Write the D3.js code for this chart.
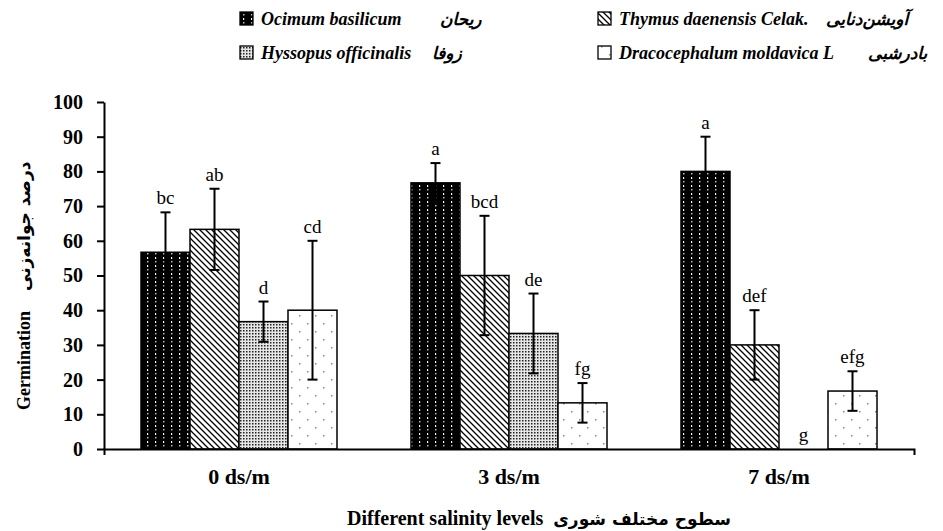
<!DOCTYPE html>
<html>
<head>
<meta charset="utf-8">
<script src="https://cdn.jsdelivr.net/npm/d3@7"></script>
<style>
  body { margin: 0; background: #fff; }
  svg { display: block; }
  .serif { font-family: "Liberation Serif", "DejaVu Serif", serif; }
  .fa { font-family: "DejaVu Sans", sans-serif; }
</style>
</head>
<body>
<div id="main"></div>
<script>
const categories = ["0 ds/m", "3 ds/m", "7 ds/m"];
const species = ["Ocimum basilicum", "Thymus daenensis Celak.", "Hyssopus officinalis", "Dracocephalum moldavica L"];
const persianNames = ["ریحان", "آویشن‌دنایی", "زوفا", "بادرشبی"];

const ocimum = [56.7, 76.7, 80];
const thymus = [63.3, 50, 30];
const hyssopus = [36.7, 33.3, 0];
const dracocephalum = [40, 13.3, 16.7];

const ocimumErr = [11.5, 5.7, 10];
const thymusErr = [11.7, 17.2, 10];
const hyssopusErr = [5.8, 11.5, 0];
const dracocephalumErr = [20, 5.7, 5.7];

const ocimumLetters = ["bc", "a", "a"];
const thymusLetters = ["ab", "bcd", "def"];
const hyssopusLetters = ["d", "de", "g"];
const dracocephalumLetters = ["cd", "fg", "efg"];

const yTicks = [0, 10, 20, 30, 40, 50, 60, 70, 80, 90, 100];

const seriesValues = [ocimum, thymus, hyssopus, dracocephalum];
const seriesErrors = [ocimumErr, thymusErr, hyssopusErr, dracocephalumErr];
const seriesLetters = [ocimumLetters, thymusLetters, hyssopusLetters, dracocephalumLetters];

const svgWidth = 943;
const svgHeight = 531;
const svg = d3.select("#main")
              .append("svg")
              .attr("width", svgWidth)
              .attr("height", svgHeight);

// fill patterns, one per species
const defs = svg.append("defs");

const p0 = defs.append("pattern").attr("id", "pat0")
               .attr("patternUnits", "userSpaceOnUse").attr("width", 8).attr("height", 8);
p0.append("rect").attr("width", 8).attr("height", 8).attr("fill", "#000");
p0.append("rect").attr("x", 3).attr("y", 1).attr("width", 1.2).attr("height", 2).attr("fill", "#fff");
p0.append("rect").attr("x", 3).attr("y", 5).attr("width", 1.5).attr("height", 1.5).attr("fill", "#bbb");

const p1 = defs.append("pattern").attr("id", "pat1")
               .attr("patternUnits", "userSpaceOnUse").attr("width", 6).attr("height", 6);
p1.append("rect").attr("width", 6).attr("height", 6).attr("fill", "#fff");
p1.append("path").attr("d", "M-1,-1L7,7M-1,5L1,7M5,-1L7,1")
  .attr("stroke", "#000").attr("stroke-width", 1.3);

const p2 = defs.append("pattern").attr("id", "pat2")
               .attr("patternUnits", "userSpaceOnUse").attr("width", 3).attr("height", 3);
p2.append("rect").attr("width", 3).attr("height", 3).attr("fill", "#e6e6e6");
p2.append("rect").attr("width", 1.5).attr("height", 1.5).attr("fill", "#222");

const p3 = defs.append("pattern").attr("id", "pat3")
               .attr("patternUnits", "userSpaceOnUse").attr("width", 16).attr("height", 16);
p3.append("rect").attr("width", 16).attr("height", 16).attr("fill", "#fff");
p3.append("rect").attr("x", 3).attr("y", 3).attr("width", 1.5).attr("height", 1.5).attr("fill", "#888");
p3.append("rect").attr("x", 11).attr("y", 11).attr("width", 1.5).attr("height", 1.5).attr("fill", "#888");

const fills = ["url(#pat0)", "url(#pat1)", "url(#pat2)", "url(#pat3)"];

// scales
const x0 = d3.scaleBand()
             .domain(categories)
             .range([104, 914]);

const x1 = d3.scaleBand()
             .domain(species)
             .range([0, x0.bandwidth()])
             .paddingOuter(0.755);

const yScale = d3.scaleLinear()
                 .domain([0, 100])
                 .range([449, 102]);

// rows of data
const rows = [];
categories.forEach((c, i) => {
  species.forEach((s, j) => {
    rows.push({
      cat: c,
      sp: s,
      idx: j,
      value: seriesValues[j][i],
      err: seriesErrors[j][i],
      letter: seriesLetters[j][i]
    });
  });
});

// bars
svg.append("g")
   .selectAll("rect")
   .data(rows.filter(d => d.value > 0))
   .enter()
   .append("rect")
   .attr("x", d => x0(d.cat) + x1(d.sp))
   .attr("y", d => yScale(d.value))
   .attr("width", x1.bandwidth())
   .attr("height", d => yScale(0) - yScale(d.value))
   .attr("fill", d => fills[d.idx])
   .attr("stroke", "#000")
   .attr("stroke-width", 1.5);

// error bars
const eb = svg.append("g")
              .selectAll("g")
              .data(rows.filter(d => d.err > 0))
              .enter()
              .append("g")
              .attr("stroke", "#000")
              .attr("stroke-width", 2);

const cx = d => x0(d.cat) + x1(d.sp) + x1.bandwidth() / 2;

eb.append("line")
  .attr("x1", cx).attr("x2", cx)
  .attr("y1", d => yScale(d.value - d.err))
  .attr("y2", d => yScale(d.value + d.err));
eb.append("line")
  .attr("x1", d => cx(d) - 5).attr("x2", d => cx(d) + 5)
  .attr("y1", d => yScale(d.value + d.err))
  .attr("y2", d => yScale(d.value + d.err));
eb.append("line")
  .attr("x1", d => cx(d) - 5).attr("x2", d => cx(d) + 5)
  .attr("y1", d => yScale(d.value - d.err))
  .attr("y2", d => yScale(d.value - d.err));

// significance letters
svg.append("g")
   .selectAll("text")
   .data(rows)
   .enter()
   .append("text")
   .attr("class", "serif")
   .attr("x", cx)
   .attr("y", d => yScale(d.value + d.err) - 8)
   .attr("text-anchor", "middle")
   .attr("font-size", 19)
   .text(d => d.letter);

// axes
const yAxis = d3.axisLeft(yScale)
                .tickValues(yTicks)
                .tickSize(7)
                .tickSizeOuter(0)
                .tickPadding(14);

const gy = svg.append("g")
              .attr("transform", "translate(104,0)")
              .call(yAxis);
gy.selectAll("path, line").attr("stroke", "#000").attr("stroke-width", 2);
gy.selectAll("text")
  .attr("class", "serif")
  .attr("font-size", 20)
  .attr("font-weight", "bold")
  .attr("fill", "#000");

const xAxis = d3.axisBottom(x0)
                .tickSize(0)
                .tickSizeOuter(6)
                .tickPadding(19);

const gx = svg.append("g")
              .attr("transform", "translate(0,449)")
              .call(xAxis);
gx.selectAll("path").attr("stroke", "#000").attr("stroke-width", 2);
gx.selectAll("text")
  .attr("class", "serif")
  .attr("font-size", 22)
  .attr("font-weight", "bold")
  .attr("fill", "#000");

// axis titles
const xt = svg.append("text")
              .attr("x", 347)
              .attr("y", 525)
              .attr("font-weight", "bold")
              .attr("font-size", 20);
xt.append("tspan").attr("class", "serif").text("Different salinity levels");
xt.append("tspan").attr("class", "fa").attr("dx", 10).attr("font-size", 17).text("سطوح مختلف شوری");

const yt = svg.append("text")
              .attr("transform", "translate(30,410) rotate(-90)")
              .attr("font-weight", "bold")
              .attr("font-size", 18);
yt.append("tspan").attr("class", "serif").text("Germination");
yt.append("tspan").attr("class", "fa").attr("dx", 20).attr("font-size", 17).text("درصد جوانه‌زنی");

// legend
const legendPos = [[240, 25], [598, 25], [240, 59], [598, 59]];
const persianX = [440, 826, 432, 868];
const legend = svg.append("g")
                  .selectAll("g")
                  .data(species)
                  .enter()
                  .append("g")
                  .attr("transform", (d, i) => "translate(" + legendPos[i][0] + "," + legendPos[i][1] + ")");

legend.append("rect")
      .attr("x", 0).attr("y", -13)
      .attr("width", 13).attr("height", 13)
      .attr("fill", (d, i) => fills[i])
      .attr("stroke", "#000")
      .attr("stroke-width", 1.3);

legend.append("text")
      .attr("class", "serif")
      .attr("x", 21)
      .attr("y", 0)
      .attr("font-weight", "bold")
      .attr("font-style", "italic")
      .attr("font-size", 18)
      .text(d => d);

legend.append("text")
      .attr("class", "fa")
      .attr("x", (d, i) => persianX[i] - legendPos[i][0])
      .attr("y", 0)
      .attr("font-weight", "bold")
      .attr("font-style", "italic")
      .attr("font-size", 17)
      .text((d, i) => persianNames[i]);
</script>
</body>
</html>
